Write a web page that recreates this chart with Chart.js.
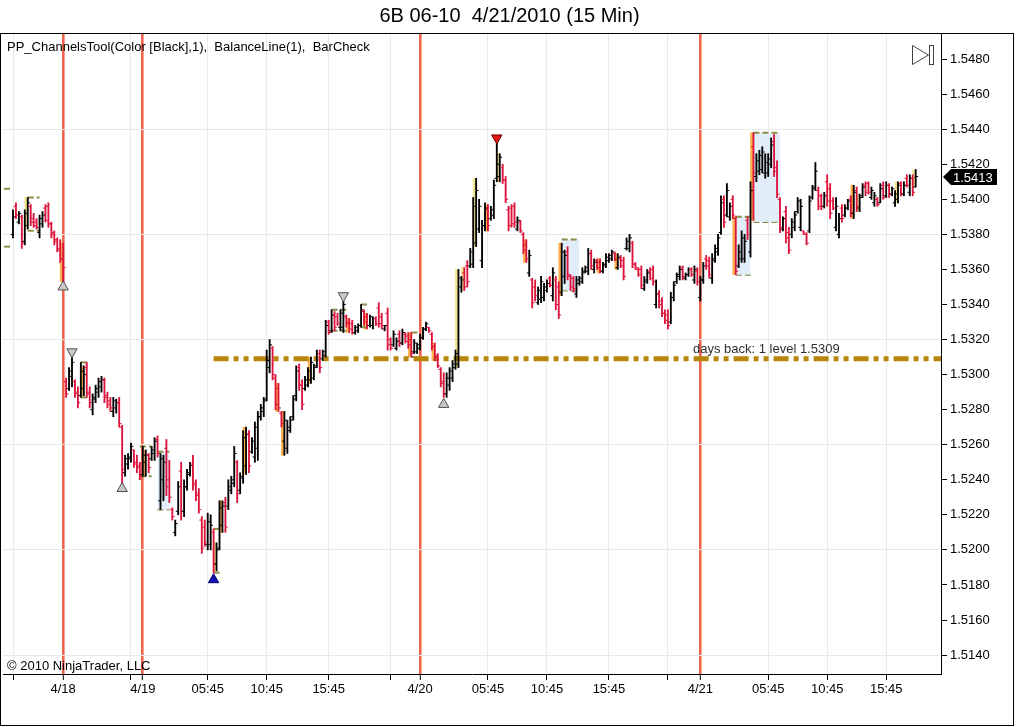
<!DOCTYPE html>
<html><head><meta charset="utf-8">
<style>html,body{margin:0;padding:0;background:#fff;}canvas{display:block;}</style>
<script src="https://cdn.jsdelivr.net/npm/chart.js@4.4.1/dist/chart.umd.min.js"></script>
</head><body>
<canvas id="c" width="1016" height="727"></canvas>
<script>
// ---------- DATA (15-min OHLC bars, 6B 06-10) ----------
const chartTitle = '6B 06-10  4/21/2010 (15 Min)';
const indicatorText = 'PP_ChannelsTool(Color [Black],1),  BalanceLine(1),  BarCheck';
const copyrightText = '\u00A9 2010 NinjaTrader, LLC';

const highs = [
1.5394,1.5398,1.5393,1.5391,1.5394,1.5401,1.5397,1.5392,1.5389,1.5391,1.5393,1.5397,1.5398,1.5387,1.5382,1.5378,1.5377,1.5375,
1.5298,1.5304,1.5310,1.5297,1.5293,1.5307,1.5305,1.5307,1.5293,1.5289,1.5294,1.5298,1.5299,1.5298,1.5290,1.5287,1.5287,1.5286,1.5287,1.5271,1.5254,1.5255,1.5261,1.5257,1.5254,1.5250,1.5259,
1.5257,1.5255,1.5259,1.5264,1.5265,1.5255,1.5254,1.5263,1.5251,1.5224,1.5217,1.5239,
1.5250,1.5240,1.5246,1.5250,1.5254,1.5240,1.5235,1.5219,1.5217,1.5221,1.5220,1.5212,1.5204,1.5228,1.5228,1.5230,1.5240,1.5242,1.5259,1.5251,1.5244,1.5268,1.5270,1.5268,1.5264,1.5273,1.5279,1.5283,1.5287,1.5314,1.5320,1.5316,1.5300,1.5295,1.5279,1.5279,1.5274,1.5276,1.5288,1.5305,1.5306,1.5297,1.5299,1.5304,1.5310,1.5306,1.5314,1.5314,1.5314,1.5331,1.5331,1.5337,1.5336,1.5335,1.5337,1.5342,1.5334,1.5332,1.5331,1.5328,1.5329,
1.5340,1.5337,1.5335,1.5334,1.5333,1.5333,1.5341,1.5335,1.5328,1.5338,1.5321,1.5325,1.5321,1.5325,1.5326,1.5324,1.5324,1.5324,1.5320,1.5318,1.5323,1.5327,1.5330,1.5327,1.5324,1.5318,1.5312,1.5304,1.5301,1.5301,1.5304,1.5308,1.5314,1.5360,1.5356,1.5361,1.5365,1.5372,1.5401,1.5412,1.5400,1.5388,1.5398,1.5397,1.5396,1.5411,1.5432,1.5426,1.5420,1.5413,1.5396,1.5397,1.5398,1.5390,1.5388,1.5381,1.5377,1.5371,1.5355,1.5354,
1.5350,1.5356,1.5352,1.5354,1.5356,1.5361,1.5356,1.5353,1.5375,1.5371,1.5373,1.5357,1.5356,1.5356,1.5356,1.5361,1.5362,1.5372,1.5371,1.5366,1.5366,1.5366,1.5364,1.5369,1.5369,1.5371,1.5370,1.5369,1.5368,1.5367,1.5378,1.5380,1.5376,1.5364,1.5361,1.5362,1.5356,1.5360,1.5361,1.5362,1.5354,1.5348,1.5344,1.5337,1.5337,1.5347,1.5353,1.5358,1.5362,1.5362,1.5358,1.5361,1.5361,1.5362,1.5361,1.5356,1.5364,1.5368,1.5367,1.5369,1.5374,1.5380,
1.5402,1.5402,1.5409,1.5398,1.5402,1.5390,1.5374,1.5382,1.5380,1.5390,1.5410,1.5438,1.5426,1.5428,1.5430,1.5426,1.5426,1.5435,1.5437,1.5422,1.5401,1.5390,1.5396,1.5384,1.5389,1.5393,1.5401,1.5400,1.5382,1.5381,1.5402,1.5408,1.5421,1.5407,1.5403,1.5404,1.5414,1.5409,1.5401,1.5401,1.5392,1.5397,1.5397,1.5400,1.5402,1.5408,1.5407,1.5403,1.5409,1.5410,1.5410,1.5407,1.5404,1.5401,1.5409,1.5410,1.5410,1.5409,1.5407,1.5405,1.5410,1.5410,1.5410,1.5414,1.5414,1.5414,1.5417
];
const lows = [
1.5378,1.5389,1.5386,1.5372,1.5374,1.5383,1.5385,1.5384,1.5383,1.5378,1.5384,1.5387,1.5384,1.5378,1.5374,1.5370,1.5364,1.5353,
1.5287,1.5291,1.5293,1.5287,1.5281,1.5287,1.5288,1.5287,1.5281,1.5277,1.5284,1.5287,1.5290,1.5284,1.5281,1.5279,1.5276,1.5278,1.5270,1.5238,1.5242,1.5246,1.5250,1.5247,1.5244,1.5240,1.5242,
1.5242,1.5244,1.5251,1.5251,1.5253,1.5223,1.5228,1.5231,1.5227,1.5217,1.5208,1.5220,
1.5217,1.5219,1.5234,1.5242,1.5234,1.5228,1.5221,1.5198,1.5202,1.5200,1.5200,1.5187,1.5188,1.5200,1.5210,1.5210,1.5223,1.5232,1.5236,1.5227,1.5232,1.5238,1.5243,1.5244,1.5255,1.5250,1.5251,1.5274,1.5276,1.5285,1.5301,1.5297,1.5280,1.5279,1.5270,1.5254,1.5255,1.5267,1.5274,1.5285,1.5291,1.5280,1.5291,1.5293,1.5295,1.5297,1.5304,1.5301,1.5308,1.5310,1.5323,1.5324,1.5325,1.5328,1.5325,1.5324,1.5327,1.5324,1.5323,1.5323,1.5324,
1.5327,1.5328,1.5326,1.5327,1.5326,1.5328,1.5327,1.5326,1.5325,1.5314,1.5314,1.5316,1.5314,1.5316,1.5317,1.5318,1.5315,1.5310,1.5312,1.5312,1.5314,1.5320,1.5325,1.5324,1.5314,1.5308,1.5304,1.5293,1.5287,1.5287,1.5291,1.5296,1.5303,1.5304,1.5347,1.5348,1.5350,1.5361,1.5361,1.5373,1.5381,1.5361,1.5382,1.5382,1.5388,1.5389,1.5410,1.5410,1.5409,1.5398,1.5382,1.5384,1.5384,1.5382,1.5381,1.5369,1.5364,1.5356,1.5338,1.5342,
1.5340,1.5341,1.5342,1.5347,1.5350,1.5342,1.5337,1.5332,1.5345,1.5352,1.5354,1.5348,1.5347,1.5344,1.5351,1.5352,1.5358,1.5357,1.5360,1.5358,1.5360,1.5358,1.5358,1.5361,1.5364,1.5365,1.5365,1.5360,1.5361,1.5354,1.5371,1.5370,1.5361,1.5360,1.5356,1.5349,1.5348,1.5352,1.5354,1.5351,1.5338,1.5338,1.5333,1.5329,1.5326,1.5329,1.5342,1.5352,1.5354,1.5354,1.5354,1.5356,1.5356,1.5352,1.5351,1.5342,1.5352,1.5360,1.5355,1.5352,1.5364,1.5368,
1.5380,1.5384,1.5390,1.5388,1.5389,1.5357,1.5361,1.5364,1.5364,1.5377,1.5367,1.5388,1.5410,1.5414,1.5415,1.5412,1.5413,1.5418,1.5413,1.5401,1.5381,1.5382,1.5375,1.5369,1.5378,1.5382,1.5392,1.5382,1.5380,1.5374,1.5381,1.5400,1.5405,1.5394,1.5394,1.5395,1.5396,1.5389,1.5394,1.5382,1.5378,1.5387,1.5390,1.5394,1.5390,1.5389,1.5393,1.5393,1.5401,1.5402,1.5403,1.5400,1.5396,1.5396,1.5398,1.5400,1.5401,1.5401,1.5402,1.5396,1.5398,1.5402,1.5402,1.5407,1.5402,1.5402,1.5407
];
const opens = [
1.5380,1.5396,1.5387,1.5390,1.5376,1.5385,1.5396,1.5389,1.5387,1.5381,1.5386,1.5395,1.5396,1.5386,1.5381,1.5377,1.5371,1.5366,
1.5296,1.5292,1.5299,1.5296,1.5290,1.5288,1.5292,1.5304,1.5290,1.5280,1.5286,1.5290,1.5293,1.5297,1.5288,1.5285,1.5279,1.5281,1.5284,1.5270,1.5244,1.5249,1.5252,1.5257,1.5250,1.5248,1.5243,
1.5250,1.5254,1.5252,1.5255,1.5263,1.5228,1.5240,1.5258,1.5240,1.5223,1.5210,1.5222,
1.5245,1.5222,1.5236,1.5243,1.5249,1.5238,1.5232,1.5217,1.5213,1.5203,1.5203,1.5210,1.5192,1.5201,1.5214,1.5227,1.5225,1.5234,1.5238,1.5250,1.5234,1.5241,1.5248,1.5266,1.5256,1.5253,1.5258,1.5276,1.5279,1.5286,1.5304,1.5315,1.5298,1.5292,1.5278,1.5262,1.5258,1.5268,1.5276,1.5288,1.5304,1.5294,1.5292,1.5294,1.5297,1.5298,1.5305,1.5312,1.5309,1.5311,1.5330,1.5325,1.5334,1.5333,1.5327,1.5327,1.5333,1.5330,1.5329,1.5324,1.5325,
1.5328,1.5336,1.5333,1.5328,1.5328,1.5332,1.5338,1.5333,1.5326,1.5335,1.5320,1.5317,1.5315,1.5323,1.5318,1.5323,1.5322,1.5320,1.5313,1.5313,1.5315,1.5321,1.5326,1.5327,1.5323,1.5316,1.5311,1.5303,1.5296,1.5289,1.5294,1.5298,1.5304,1.5306,1.5350,1.5358,1.5362,1.5362,1.5363,1.5375,1.5383,1.5365,1.5385,1.5394,1.5389,1.5391,1.5412,1.5413,1.5418,1.5411,1.5394,1.5395,1.5396,1.5383,1.5387,1.5380,1.5374,1.5358,1.5354,1.5350,
1.5341,1.5343,1.5344,1.5348,1.5355,1.5345,1.5354,1.5350,1.5347,1.5356,1.5370,1.5356,1.5355,1.5346,1.5352,1.5353,1.5359,1.5359,1.5369,1.5360,1.5365,1.5364,1.5359,1.5362,1.5365,1.5366,1.5369,1.5361,1.5366,1.5365,1.5372,1.5372,1.5375,1.5363,1.5360,1.5360,1.5349,1.5353,1.5359,1.5360,1.5340,1.5346,1.5342,1.5335,1.5334,1.5330,1.5344,1.5353,1.5356,1.5361,1.5355,1.5357,1.5360,1.5354,1.5359,1.5344,1.5354,1.5366,1.5365,1.5355,1.5365,1.5370,
1.5381,1.5400,1.5391,1.5390,1.5400,1.5389,1.5362,1.5366,1.5366,1.5388,1.5370,1.5430,1.5413,1.5416,1.5417,1.5415,1.5415,1.5420,1.5433,1.5418,1.5400,1.5383,1.5393,1.5381,1.5380,1.5384,1.5393,1.5384,1.5382,1.5380,1.5382,1.5401,1.5407,1.5405,1.5402,1.5396,1.5410,1.5406,1.5399,1.5384,1.5380,1.5395,1.5391,1.5395,1.5400,1.5392,1.5405,1.5395,1.5402,1.5408,1.5409,1.5401,1.5398,1.5400,1.5398,1.5408,1.5402,1.5408,1.5403,1.5398,1.5400,1.5409,1.5403,1.5412,1.5404,1.5412,1.5407
];
const closes = [
1.5390,1.5391,1.5392,1.5375,1.5392,1.5398,1.5387,1.5385,1.5384,1.5389,1.5391,1.5388,1.5386,1.5380,1.5376,1.5372,1.5366,1.5361,
1.5289,1.5302,1.5307,1.5289,1.5284,1.5302,1.5300,1.5289,1.5284,1.5287,1.5292,1.5296,1.5297,1.5287,1.5283,1.5281,1.5285,1.5284,1.5272,1.5246,1.5252,1.5253,1.5259,1.5249,1.5247,1.5242,1.5254,
1.5254,1.5247,1.5257,1.5262,1.5255,1.5252,1.5250,1.5236,1.5230,1.5219,1.5215,1.5236,
1.5222,1.5236,1.5244,1.5248,1.5237,1.5231,1.5223,1.5201,1.5204,1.5216,1.5214,1.5192,1.5200,1.5224,1.5225,1.5213,1.5236,1.5240,1.5255,1.5232,1.5242,1.5264,1.5266,1.5248,1.5262,1.5270,1.5276,1.5281,1.5285,1.5308,1.5317,1.5300,1.5283,1.5281,1.5272,1.5274,1.5270,1.5274,1.5286,1.5302,1.5294,1.5283,1.5297,1.5302,1.5307,1.5304,1.5312,1.5304,1.5313,1.5328,1.5324,1.5334,1.5327,1.5329,1.5335,1.5340,1.5329,1.5326,1.5324,1.5327,1.5328,
1.5337,1.5330,1.5328,1.5333,1.5332,1.5329,1.5329,1.5328,1.5328,1.5317,1.5315,1.5323,1.5319,1.5318,1.5324,1.5319,1.5317,1.5312,1.5318,1.5317,1.5321,1.5326,1.5329,1.5325,1.5316,1.5310,1.5305,1.5295,1.5289,1.5298,1.5302,1.5306,1.5312,1.5355,1.5354,1.5350,1.5353,1.5370,1.5396,1.5405,1.5396,1.5385,1.5395,1.5385,1.5394,1.5408,1.5420,1.5424,1.5411,1.5400,1.5385,1.5386,1.5387,1.5388,1.5382,1.5371,1.5366,1.5368,1.5341,1.5345,
1.5348,1.5353,1.5350,1.5352,1.5351,1.5358,1.5340,1.5334,1.5370,1.5368,1.5357,1.5350,1.5349,1.5354,1.5355,1.5358,1.5361,1.5369,1.5362,1.5364,1.5361,1.5359,1.5363,1.5367,1.5368,1.5370,1.5366,1.5367,1.5362,1.5356,1.5376,1.5378,1.5363,1.5361,1.5357,1.5351,1.5354,1.5358,1.5355,1.5353,1.5346,1.5340,1.5335,1.5331,1.5328,1.5344,1.5351,1.5357,1.5360,1.5356,1.5357,1.5360,1.5357,1.5360,1.5353,1.5354,1.5362,1.5362,1.5357,1.5366,1.5372,1.5378,
1.5398,1.5387,1.5405,1.5396,1.5391,1.5359,1.5370,1.5378,1.5376,1.5380,1.5405,1.5415,1.5422,1.5425,1.5427,1.5421,1.5423,1.5431,1.5416,1.5403,1.5384,1.5389,1.5378,1.5371,1.5387,1.5391,1.5399,1.5396,1.5380,1.5375,1.5399,1.5406,1.5416,1.5396,1.5396,1.5402,1.5399,1.5392,1.5395,1.5396,1.5389,1.5389,1.5395,1.5399,1.5392,1.5404,1.5396,1.5401,1.5407,1.5404,1.5404,1.5405,1.5402,1.5397,1.5406,1.5401,1.5408,1.5403,1.5406,1.5403,1.5408,1.5403,1.5408,1.5408,1.5412,1.5404,1.5413
];

// x-axis ticks (bar index -> label)
const tickIdx  = [0, 17, 40, 44, 66, 86, 107, 128, 138, 161, 181, 202, 222, 233, 256, 276, 296];
const tickText = ['', '4/18', '', '4/19', '05:45', '10:45', '15:45', '', '4/20', '05:45', '10:45', '15:45', '', '4/21', '05:45', '10:45', '15:45'];
const dayIdx = [17, 44, 138, 233];
// y-axis tick labels
const yTicks = [1.5140,1.5160,1.5180,1.5200,1.5220,1.5240,1.5260,1.5280,1.5300,1.5320,1.5340,1.5360,1.5380,1.5400,1.5420,1.5440,1.5460,1.5480];
const yGridTicks = [1.5140,1.5200,1.5260,1.5320,1.5380,1.5440];

// Balance line
const balanceLevel = 1.5309;
const balanceFrom = 68;
const daysBack = 1;

// swing markers
const swingIdx   = [17, 20, 37, 68, 112, 146, 164];
const swingPrice = [1.5350, 1.5313, 1.5235, 1.5183, 1.5345, 1.5283, 1.5435];
const swingKind  = ['low', 'high', 'low', 'lowest', 'high', 'low', 'highest'];

// channel boxes
const chanStart = [-3, 5, 23, 43, 49, 68, 108, 118, 135, 186, 245, 251];
const chanEnd   = [-1, 9, 26, 47, 53, 71, 113, 120, 138, 192, 250, 260];
const chanHigh  = [1.5406, 1.5401, 1.5307, 1.5259, 1.5256, 1.5212, 1.5337, 1.5340, 1.5324, 1.5377, 1.5390, 1.5438];
const chanLow   = [1.5373, 1.5382, 1.5287, 1.5242, 1.5223, 1.5187, 1.5325, 1.5327, 1.5310, 1.5348, 1.5357, 1.5387];
const chanShaded = [false, false, false, false, true, false, false, false, false, true, true, true];

// highlighted (filled) bars of the channel tool
const fillIdx  = [5,17,24,45,69,71,79,90,92,101,114,120,135,143,151,153,157,161,165,174,186,199,205,245,251,255,285,287,300,306];
const fillTone = ['y','o','o','o','y','o','o','o','o','o','o','o','o','o','y','y','y','o','y','o','o','o','o','o','o','o','o','y','y','y'];

// ---------- CHART ----------
const FONT = "'Liberation Sans', Arial, Helvetica, sans-serif";
Chart.defaults.font.family = FONT;
Chart.defaults.font.size = 13;
Chart.defaults.color = '#000';

const RED = '#dc143c', BLACK = '#000000';
const DAY = 'rgb(240,100,78)', GRID = '#e9e9e9';
const barColor = i => closes[i] >= opens[i] ? BLACK : RED;
const X_MIN = -3.39, X_MAX = 314.58, Y_MIN = 1.51292, Y_MAX = 1.54943;

const datasets = [];
datasets.push({
  type: 'scatter',
  data: swingIdx.map((x, k) => ({x, y: swingPrice[k]})),
  pointStyle: 'triangle', pointRadius: 6, pointBorderWidth: 1,
  pointRotation: c => swingKind[c.dataIndex].startsWith('high') ? 180 : 0,
  pointBackgroundColor: c => { const k = swingKind[c.dataIndex]; return k === 'lowest' ? '#1010b0' : k === 'highest' ? '#e01818' : '#c8c8c8'; },
  pointBorderColor: c => { const k = swingKind[c.dataIndex]; return k === 'lowest' ? '#000070' : k === 'highest' ? '#700000' : '#505050'; }
});
datasets.push({
  type: 'scatter',
  data: opens.map((y, i) => ({x: i - 0.4, y})),
  pointStyle: 'line', pointRadius: 1.2, pointBorderWidth: 1,
  pointBorderColor: c => barColor(c.dataIndex)
});
datasets.push({
  type: 'scatter',
  data: closes.map((y, i) => ({x: i + 0.4, y})),
  pointStyle: 'line', pointRadius: 1.2, pointBorderWidth: 1,
  pointBorderColor: c => barColor(c.dataIndex)
});
datasets.push({
  type: 'bar',
  data: highs.map((h, i) => ({x: i, y: [lows[i], h]})),
  backgroundColor: c => barColor(c.dataIndex),
  barThickness: 1.2, grouped: false, borderWidth: 0
});
datasets.push({
  type: 'line',
  data: [{x: balanceFrom, y: balanceLevel}, {x: X_MAX, y: balanceLevel}],
  borderColor: '#b8860b', borderWidth: 5, borderDash: [15, 5, 5, 5, 5, 5],
  borderCapStyle: 'butt', pointRadius: 0, fill: false
});
chanStart.forEach((s, k) => {
  const e = chanEnd[k];
  datasets.push({
    type: 'line', clip: 8,
    data: [{x: s, y: chanHigh[k]}, {x: e, y: chanHigh[k]}],
    borderColor: '#8c8c48', borderWidth: 2, borderDash: [6, 3], pointRadius: 0,
    fill: chanShaded[k] ? '+1' : false, backgroundColor: 'rgba(222,236,250,0.9)'
  });
  datasets.push({
    type: 'line', clip: 8,
    data: [{x: s, y: chanLow[k]}, {x: e, y: chanLow[k]}],
    borderColor: '#8c8c48', borderWidth: 2, borderDash: [6, 3], pointRadius: 0, fill: false
  });
});
datasets.push({
  type: 'bar',
  data: fillIdx.map(i => ({x: i - 0.5, y: [lows[i], highs[i]]})),
  backgroundColor: c => fillTone[c.dataIndex] === 'y' ? 'rgba(238,226,130,0.9)' : 'rgba(255,170,60,0.9)',
  barThickness: 3, grouped: false, borderWidth: 0
});

const overlay = {
  id: 'overlay',
  afterDraw(chart) {
    const {ctx, chartArea, scales: {x, y}} = chart;
    ctx.save();
    ctx.strokeStyle = '#000'; ctx.lineWidth = 1;
    ctx.strokeRect(0.5, 33.5, 1013, 692);
    ctx.fillStyle = '#000';
    ctx.font = '13px ' + FONT;
    ctx.textAlign = 'left'; ctx.textBaseline = 'middle';
    ctx.fillText(indicatorText, 7, 47);
    ctx.fillText(copyrightText, 7, 666);
    // balance label
    ctx.fillStyle = '#303030';
    ctx.textBaseline = 'alphabetic';
    ctx.fillText('days back: ' + daysBack + ' level ' + balanceLevel.toFixed(4), x.getPixelForValue(230.5), y.getPixelForValue(balanceLevel) - 6);
    // last price tag
    const last = closes[closes.length - 1];
    const py = Math.round(y.getPixelForValue(last));
    const ax = chartArea.right + 2;
    ctx.fillStyle = '#000';
    ctx.beginPath();
    ctx.moveTo(ax, py); ctx.lineTo(ax + 8, py - 8); ctx.lineTo(ax + 54, py - 8);
    ctx.lineTo(ax + 54, py + 8); ctx.lineTo(ax + 8, py + 8); ctx.closePath(); ctx.fill();
    ctx.fillStyle = '#fff'; ctx.textBaseline = 'middle';
    ctx.fillText(last.toFixed(4), ax + 10, py + 1);
    // scroll icon
    ctx.strokeStyle = '#404040'; ctx.lineWidth = 1;
    ctx.beginPath(); ctx.moveTo(912.5, 45.5); ctx.lineTo(912.5, 64.5); ctx.lineTo(928.5, 55); ctx.closePath(); ctx.stroke();
    ctx.strokeRect(929.5, 45.5, 4, 19);
    ctx.restore();
  }
};

new Chart(document.getElementById('c'), {
  type: 'scatter',
  data: {datasets},
  options: {
    responsive: false, animation: false, events: [],
    layout: {autoPadding: false, padding: {left: 3, right: 0, top: 0, bottom: 0}},
    plugins: {
      legend: {display: false}, tooltip: {enabled: false},
      title: {display: true, text: chartTitle, color: '#000', font: {size: 20, weight: 'normal'}, padding: {top: 4, bottom: 6}}
    },
    scales: {
      x: {
        type: 'linear', position: 'bottom', min: X_MIN, max: X_MAX, offset: false,
        afterBuildTicks: s => { s.ticks = tickIdx.map(v => ({value: v})); },
        afterFit: s => { s.height = 53; s.paddingLeft = 0; s.paddingRight = 0; },
        ticks: {autoSkip: false, maxRotation: 0, minRotation: 0, padding: 2, color: '#000', font: {size: 13},
                callback: v => { const k = tickIdx.indexOf(v); return k >= 0 ? tickText[k] : ''; }},
        grid: {offset: false, drawTicks: true, tickLength: 6, tickColor: '#000', tickWidth: 1,
               color: c => (c.tick && dayIdx.includes(c.tick.value)) ? DAY : GRID,
               lineWidth: c => (c.tick && dayIdx.includes(c.tick.value)) ? 2.6 : 1},
        border: {display: true, color: '#000', width: 1}
      },
      y: {
        type: 'linear', position: 'right', min: Y_MIN, max: Y_MAX,
        afterBuildTicks: s => { s.ticks = yTicks.map(v => ({value: v})); },
        afterFit: s => { s.width = 75; s.paddingTop = 0; s.paddingBottom = 0; },
        ticks: {padding: 3, color: '#000', font: {size: 13}, callback: v => Number(v).toFixed(4)},
        grid: {drawTicks: true, tickLength: 6, tickColor: '#000', tickWidth: 1,
               color: c => (c.tick && yGridTicks.some(g => Math.abs(g - c.tick.value) < 1e-6)) ? GRID : 'rgba(0,0,0,0)'},
        border: {display: true, color: '#000', width: 1}
      }
    }
  },
  plugins: [overlay]
});
</script>
</body></html>
